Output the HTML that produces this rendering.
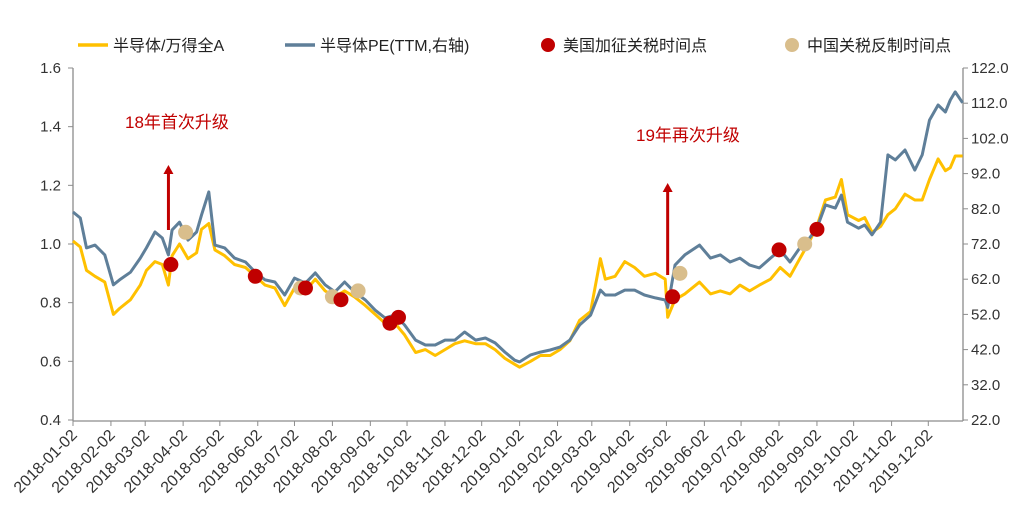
<!DOCTYPE html>
<html><head><meta charset="utf-8"><style>
body{margin:0;background:#fff;width:1024px;height:526px;overflow:hidden}
svg{display:block;font-family:"Liberation Sans","Noto Sans CJK SC",sans-serif}
</style></head><body>
<svg id="chart" width="1024" height="526">
<g id="legend">
 <line x1="78" y1="45" x2="108" y2="45" stroke="#FFC000" stroke-width="3.5"/>
 <text x="113" y="51" font-size="16" fill="#222">半导体/万得全A</text>
 <line x1="285" y1="45" x2="315" y2="45" stroke="#5F7F99" stroke-width="3.5"/>
 <text x="320" y="51" font-size="16" fill="#222">半导体PE(TTM,右轴)</text>
 <circle cx="548" cy="45" r="7" fill="#C00000"/>
 <text x="563" y="51" font-size="16" fill="#222">美国加征关税时间点</text>
 <circle cx="792" cy="45" r="7" fill="#D9BE8C"/>
 <text x="807" y="51" font-size="16" fill="#222">中国关税反制时间点</text>
</g>
<text x="125" y="128" font-size="17" fill="#C00000">18年首次升级</text>
<text x="636" y="141" font-size="17" fill="#C00000">19年再次升级</text>
</svg>
<script>
const days=[0,6,11,18,26,33,38,47,55,60,67,73,78,81,87,94,101,105,111,116,124,132,141,149,157,165,173,181,190,198,206,214,222,230,239,247,255,263,271,280,288,296,304,312,320,329,337,345,353,361,365,374,382,390,398,406,414,423,431,435,443,451,459,467,476,484,486,492,500,512,521,529,537,545,553,561,570,578,586,594,602,608,615,623,628,633,642,647,653,660,666,672,680,688,694,700,707,713,717,721,727];
const ratioValues=[1.01,0.99,0.91,0.89,0.87,0.76,0.78,0.81,0.86,0.91,0.94,0.93,0.86,0.96,1.00,0.95,0.97,1.05,1.07,0.98,0.96,0.93,0.92,0.89,0.86,0.85,0.79,0.85,0.84,0.88,0.84,0.82,0.84,0.82,0.79,0.76,0.73,0.73,0.69,0.63,0.64,0.62,0.64,0.66,0.67,0.66,0.66,0.64,0.61,0.59,0.58,0.60,0.62,0.62,0.64,0.67,0.74,0.77,0.95,0.88,0.89,0.94,0.92,0.89,0.90,0.88,0.75,0.81,0.83,0.87,0.83,0.84,0.83,0.86,0.84,0.86,0.88,0.92,0.89,0.95,1.01,1.06,1.15,1.16,1.22,1.10,1.08,1.09,1.04,1.06,1.10,1.12,1.17,1.15,1.15,1.22,1.29,1.25,1.26,1.30,1.30];
const peValues=[81.1,79.4,70.9,71.7,68.9,60.4,61.8,64.0,68.0,70.9,75.4,73.7,68.9,76.0,78.2,73.1,75.4,80.2,86.8,71.7,70.9,68.0,66.9,64.0,61.8,61.2,57.5,62.3,60.9,63.8,60.4,58.4,61.2,58.4,56.1,53.2,51.0,51.8,49.0,44.7,43.3,43.3,44.7,44.7,47.0,44.7,45.3,43.9,41.3,39.0,38.5,40.5,41.3,41.9,42.7,44.7,49.0,51.8,58.9,57.5,57.5,58.9,58.9,57.5,56.7,56.1,54.0,66.0,68.9,71.7,68.0,68.9,66.9,68.0,66.0,65.2,68.0,70.3,66.9,70.9,73.7,76.5,83.1,82.2,85.9,78.2,76.5,77.4,74.6,78.2,97.3,95.9,98.7,93.0,97.3,107.2,111.5,109.5,112.9,115.2,112.1];
const usDays=[80,149,190,219,259,266,490,577,608];
const usValues=[0.93,0.89,0.85,0.81,0.73,0.75,0.82,0.98,1.05];
const cnDays=[92,186,212,233,496,598];
const cnValues=[1.04,0.85,0.82,0.84,0.90,1.00];
const leftTicks=[0.4,0.6,0.8,1.0,1.2,1.4,1.6];
const rightTicks=[22,32,42,52,62,72,82,92,102,112,122];
const arrowDays=[78,486];

const NS="http://www.w3.org/2000/svg";
const svg=document.getElementById('chart');
const X0=73,X1=963,YT=68,YB=420,PXD=1.2236;
const x=d=>X0+d*PXD;
const yL=v=>YB-(v-0.4)/1.2*(YB-YT);
const yR=v=>YB-(v-22)/100*(YB-YT);
function mk(tag,attrs,parent){const e=document.createElementNS(NS,tag);for(const k in attrs)e.setAttribute(k,attrs[k]);(parent||svg).appendChild(e);return e;}

let a=mk('line',{x1:X0,y1:YT,x2:X0,y2:YB+1,stroke:'#8c8c8c','stroke-width':1.3});


a=mk('line',{x1:X1,y1:YT,x2:X1,y2:YB+1,stroke:'#8c8c8c','stroke-width':1.3});


a=mk('line',{x1:X0,y1:YB+1,x2:X1,y2:YB+1,stroke:'#8c8c8c','stroke-width':1.3});


leftTicks.forEach(v=>{
 mk('line',{x1:X0-5,y1:yL(v),x2:X0,y2:yL(v),stroke:'#8c8c8c'});
 const t=mk('text',{x:X0-12,y:yL(v)+5,'text-anchor':'end','font-size':15,fill:'#333'});
 t.textContent=v.toFixed(1);
 
 
});
rightTicks.forEach(v=>{
 mk('line',{x1:X1,y1:yR(v),x2:X1+5,y2:yR(v),stroke:'#8c8c8c'});
 const t=mk('text',{x:X1+8,y:yR(v)+5,'font-size':15,fill:'#333'});
 t.textContent=v.toFixed(1);
 
 
});
const start=Date.UTC(2018,0,2);
for(let m=0;m<24;m++){
 const dt=Date.UTC(2018+Math.floor(m/12),m%12,2);
 const d=(dt-start)/86400000;const xx=x(d);
 mk('line',{x1:xx,y1:YB+1,x2:xx,y2:YB+6,stroke:'#8c8c8c'});
 const yr=2018+Math.floor(m/12),mo=String(m%12+1).padStart(2,'0');
 const t=mk('text',{x:xx+5,y:YB+16,'text-anchor':'end','font-size':16,fill:'#333',transform:`rotate(-45 ${xx+5} ${YB+16})`});
 t.textContent=`${yr}-${mo}-02`;
 
 
}
let p=mk('path',{d:days.map((d,i)=>(i?'L':'M')+x(d).toFixed(1)+','+yL(ratioValues[i]).toFixed(1)).join(''),fill:'none',stroke:'#FFC000','stroke-width':3,'stroke-linejoin':'round'});


p=mk('path',{d:days.map((d,i)=>(i?'L':'M')+x(d).toFixed(1)+','+yR(peValues[i]).toFixed(1)).join(''),fill:'none',stroke:'#5F7F99','stroke-width':3,'stroke-linejoin':'round'});


const arrowTop=[165,183],arrowBot=[230,275];
arrowDays.forEach((d,i)=>{
 const xx=x(d);
 const l=mk('line',{x1:xx,y1:arrowBot[i],x2:xx,y2:arrowTop[i]+8,stroke:'#C00000','stroke-width':3});
 
 
 mk('polygon',{points:`${xx-5},${arrowTop[i]+9} ${xx+5},${arrowTop[i]+9} ${xx},${arrowTop[i]}`,fill:'#C00000'});
});
cnDays.forEach((d,i)=>{
 const c=mk('circle',{cx:x(d),cy:yL(cnValues[i]),r:7.5,fill:'#D9BE8C'});
 
 
});
usDays.forEach((d,i)=>{
 const c=mk('circle',{cx:x(d),cy:yL(usValues[i]),r:7.5,fill:'#C00000'});
 
 
});
</script>
</body></html>
